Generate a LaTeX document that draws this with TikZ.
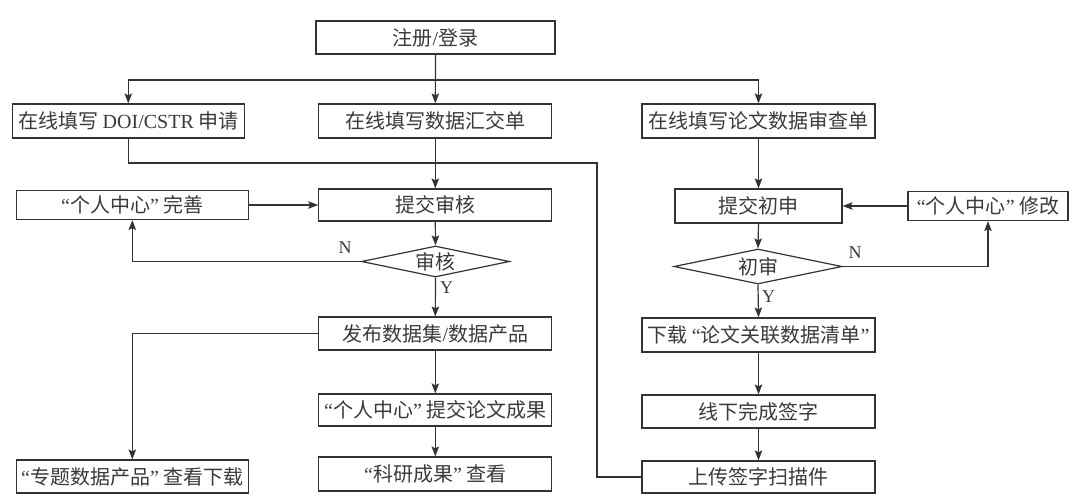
\documentclass[tikz,border=0pt]{standalone}
\usepackage{fontspec}
\setmainfont{Liberation Serif}
\newfontfamily\cjk{Noto Sans CJK SC}
\usetikzlibrary{shapes.geometric,arrows.meta}
\definecolor{lc}{HTML}{333333}
\definecolor{tc}{HTML}{3A3A3A}
\newcommand\qq[1]{{\rmfamily “}#1{\rmfamily ”}}
\newcommand\lat[1]{{\rmfamily #1}}
\begin{document}
\begin{tikzpicture}[x=1pt,y=-1pt,
  box/.style={draw=lc, line width=1.2pt, rectangle, inner sep=1pt, text=tc,
    font=\cjk\fontsize{20}{23}\selectfont, minimum height=33pt},
  dia/.style={draw=lc, line width=1.2pt, diamond, aspect=5, inner sep=0pt, text=tc,
    font=\cjk\fontsize{20}{23}\selectfont},
  arr/.style={draw=lc, line width=1.2pt, -{Stealth[length=10pt,width=7.5pt,inset=2pt]}},
  conn/.style={draw=lc, line width=1.2pt},
  lab/.style={text=tc, font=\rmfamily\fontsize{18}{20}\selectfont, inner sep=0pt}]
\useasboundingbox[fill=white] (0,0) rectangle (1080,499);

% left / middle column
\node[box, minimum width=239pt] (reg) at (435.5,37.5) {注册\lat{/}登录};
\node[box, minimum width=232pt, minimum height=34pt] (doi) at (128.3,121) {在线填写 \lat{DOI/CSTR} 申请};
\node[box, minimum width=233pt, minimum height=34pt] (data) at (435.3,121) {在线填写数据汇交单};
\node[box, minimum width=233pt, minimum height=34pt] (paper) at (758.5,121) {在线填写论文数据审查单};
\node[box, minimum width=233pt, minimum height=32pt] (submit) at (435.3,205) {提交审核};
\node[box, minimum width=232pt, minimum height=29pt] (perfect) at (132.3,205) {\qq{个人中心} 完善};
\node[dia, minimum width=148pt, minimum height=31pt] (audit) at (435.5,261.5) {审核};
\node[box, minimum width=233pt, minimum height=33pt] (publish) at (435.3,333.5) {发布数据集\lat{/}数据产品};
\node[box, minimum width=233pt, minimum height=32pt] (paperres) at (435.3,410) {\qq{个人中心} 提交论文成果};
\node[box, minimum width=233pt, minimum height=34pt] (sci) at (435.3,474) {\qq{科研成果} 查看};
\node[box, minimum width=232pt, minimum height=33pt] (topic) at (132.3,476.5) {\qq{专题数据产品} 查看下载};

% right column
\node[box, minimum width=167pt, minimum height=34pt] (init) at (758.5,206) {提交初申};
\node[box, minimum width=160pt, minimum height=29pt] (modify) at (988,206) {\qq{个人中心} 修改};
\node[dia, minimum width=168pt, minimum height=35pt] (review) at (758,266.5) {初审};
\node[box, minimum width=233pt, minimum height=34pt] (download) at (758.5,335) {下载 \qq{论文关联数据清单}};
\node[box, minimum width=233pt, minimum height=33pt] (offline) at (758.5,411.5) {线下完成签字};
\node[box, minimum width=233pt, minimum height=32pt] (upload) at (758.5,477) {上传签字扫描件};

% labels
\node[lab] (n1) at (345,248) {N};
\node[lab, anchor=west] (y1) at (440,288) {Y};
\node[lab] (n2) at (855,253) {N};
\node[lab, anchor=west] (y2) at (762,297) {Y};

% connectors
\coordinate (split) at (435.5,80);
\coordinate (d1) at (597,163);
\draw[arr] (reg.south) -- (data.north);
\draw[arr] (split) -| (doi.north);
\draw[arr] (split) -| (paper.north);
\draw[conn] (doi.south) |- (d1) |- (upload.west);
\draw[arr] (data.south) -- (submit.north);
\draw[arr] (perfect.east) -- (submit.west);
\draw[arr] (submit.south) -- (audit.north);
\draw[arr] (audit.west) -| (perfect.south);
\draw[arr] (audit.south) -- (publish.north);
\draw[arr] (publish.west) -| (topic.north);
\draw[arr] (publish.south) -- (paperres.north);
\draw[arr] (paperres.south) -- (sci.north);

\draw[arr] (paper.south) -- (init.north);
\draw[arr] (modify.west) -- (init.east);
\draw[arr] (init.south) -- (review.north);
\draw[arr] (review.east) -| (modify.south);
\draw[arr] (review.south) -- (download.north);
\draw[arr] (download.south) -- (offline.north);
\draw[arr] (offline.south) -- (upload.north);
\end{tikzpicture}
\end{document}
